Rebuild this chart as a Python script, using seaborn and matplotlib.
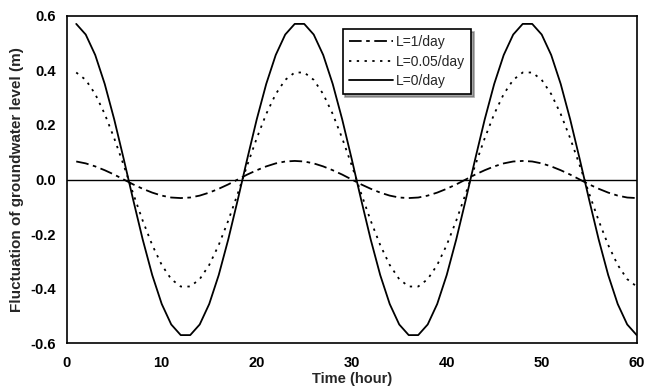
import numpy as np
import pandas as pd
import matplotlib
matplotlib.use("Agg")
import matplotlib.pyplot as plt
import seaborn as sns

# hourly values (t = 1 .. 60)
hours = list(range(1, 61))

# L=1/day (small amplitude)
level_l1 = [0.066, 0.059, 0.048, 0.034, 0.018, 0.000, -0.018, -0.034, -0.048, -0.059, -0.066, -0.068,
            -0.066, -0.059, -0.048, -0.034, -0.018, 0.000, 0.018, 0.034, 0.048, 0.059, 0.066, 0.068,
            0.066, 0.059, 0.048, 0.034, 0.018, 0.000, -0.018, -0.034, -0.048, -0.059, -0.066, -0.068,
            -0.066, -0.059, -0.048, -0.034, -0.018, 0.000, 0.018, 0.034, 0.048, 0.059, 0.066, 0.068,
            0.066, 0.059, 0.048, 0.034, 0.018, 0.000, -0.018, -0.034, -0.048, -0.059, -0.066, -0.068]

# L=0.05/day (dotted)
level_l005 = [0.392, 0.365, 0.313, 0.240, 0.151, 0.052, -0.052, -0.151, -0.240, -0.313, -0.365, -0.392,
              -0.392, -0.365, -0.313, -0.240, -0.151, -0.052, 0.052, 0.151, 0.240, 0.313, 0.365, 0.392,
              0.392, 0.365, 0.313, 0.240, 0.151, 0.052, -0.052, -0.151, -0.240, -0.313, -0.365, -0.392,
              -0.392, -0.365, -0.313, -0.240, -0.151, -0.052, 0.052, 0.151, 0.240, 0.313, 0.365, 0.392,
              0.392, 0.365, 0.313, 0.240, 0.151, 0.052, -0.052, -0.151, -0.240, -0.313, -0.365, -0.392]

# L=0/day (solid, largest)
level_l0 = [0.570, 0.531, 0.456, 0.350, 0.220, 0.075, -0.075, -0.220, -0.350, -0.456, -0.531, -0.570,
            -0.570, -0.531, -0.456, -0.350, -0.220, -0.075, 0.075, 0.220, 0.350, 0.456, 0.531, 0.570,
            0.570, 0.531, 0.456, 0.350, 0.220, 0.075, -0.075, -0.220, -0.350, -0.456, -0.531, -0.570,
            -0.570, -0.531, -0.456, -0.350, -0.220, -0.075, 0.075, 0.220, 0.350, 0.456, 0.531, 0.570,
            0.570, 0.531, 0.456, 0.350, 0.220, 0.075, -0.075, -0.220, -0.350, -0.456, -0.531, -0.570]

labels = ["L=1/day", "L=0.05/day", "L=0/day"]

df = pd.DataFrame({"Time": hours, labels[0]: level_l1, labels[1]: level_l005, labels[2]: level_l0})
df = df.melt(id_vars="Time", var_name="Case", value_name="Level")

sns.set_style("white")
plt.rcParams["font.family"] = ["Liberation Sans", "DejaVu Sans"]
plt.rcParams["axes.unicode_minus"] = False

fig = plt.figure(figsize=(6.46, 3.89), dpi=100)
ax = fig.add_axes([0.1033, 0.1175, 0.8823, 0.8421])

ax.axhline(0, color="black", lw=1.0, zorder=1)

styles = {labels[0]: (0, (7, 2.5, 2, 2.5)), labels[1]: (0, (1.3, 3)), labels[2]: "-"}
for lab in labels:
    sub = df[df["Case"] == lab]
    sns.lineplot(data=sub, x="Time", y="Level", ax=ax, color="black", lw=1.3,
                 linestyle=styles[lab], label=lab)

ax.set_xlim(0, 60)
ax.set_ylim(-0.6, 0.6)
ax.set_xticks(np.arange(0, 61, 10))
ax.set_yticks(np.arange(-0.6, 0.61, 0.2))
ax.set_yticklabels(["-0.6", "-0.4", "-0.2", "0.0", "0.2", "0.4", "0.6"])
ax.tick_params(axis="x", direction="inout", length=7, width=1, colors="black", labelsize=10.5, pad=6)
ax.tick_params(axis="y", direction="out", length=5, width=1, colors="black", labelsize=10.5, pad=3)
for t in ax.get_xticklabels() + ax.get_yticklabels():
    t.set_fontweight("bold")

ax.set_xlabel("Time (hour)", fontsize=10.5, fontweight="bold", labelpad=1)
ax.set_ylabel("Fluctuation of groundwater level (m)", fontsize=11, fontweight="bold", labelpad=4)

for s in ax.spines.values():
    s.set_color("black")
    s.set_linewidth(1.2)

leg = ax.legend(loc="upper left", bbox_to_anchor=(0.484, 0.96), frameon=True, fancybox=False,
                shadow=True, fontsize=10, handlelength=3.2, handletextpad=0.2,
                borderpad=0.45, labelspacing=0.4, borderaxespad=0)
leg.get_frame().set_edgecolor("black")
leg.get_frame().set_linewidth(1.2)

fig.savefig("out.png", dpi=100)
